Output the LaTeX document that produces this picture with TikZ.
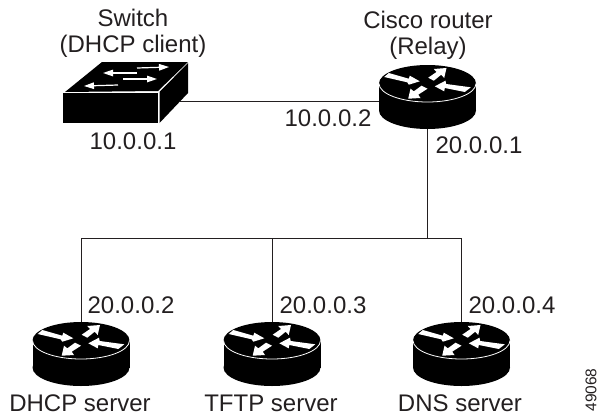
\documentclass[tikz,border=0pt]{standalone}
\usepackage{fontspec}
\setmainfont{Liberation Sans}
\usetikzlibrary{arrows.meta,positioning}

\definecolor{inkgray}{HTML}{231F20}
\tikzset{
  lbl/.style={text=inkgray,font=\fontsize{24}{26}\selectfont,inner sep=0pt,text height=17pt,text depth=0pt},
  caption/.style={text=inkgray,font=\fontsize{24}{26}\selectfont,inner sep=0pt,align=center},
  wire/.style={draw=inkgray,line width=0.9pt},
  routerbox/.style={minimum width=97pt,minimum height=56pt,inner sep=0pt},
  switchbox/.style={minimum width=117pt,minimum height=42pt,inner sep=0pt},
  thinarrow/.style={white,line width=1.2pt,-{Triangle[length=10pt,width=6.5pt]}},
  router/.pic={
    \fill[black] (-48.5,-17.5) rectangle (48.5,9.5);
    \fill[black] (0,9.5) ellipse[x radius=48.5,y radius=18.5];
    \fill[black] (0,-17.5) ellipse[x radius=48.5,y radius=18.5];
    \draw[white,line width=0.8pt] (-48.5,-17.5) arc[start angle=180,end angle=0,x radius=48.5,y radius=18.5];
    % left, up, right, down
    \fill[white] (-38.7,-28) -- (-18.7,-22.3) -- (-17.7,-25.3) -- (-7.7,-19.7) -- (-18.7,-16.3) -- (-20.3,-18.7) -- (-43.3,-24) -- cycle;
    \fill[white] (19,-33) -- (16.7,-23) -- (13.7,-26.3) -- (6.3,-20.3) -- (0.7,-23.3) -- (9,-29) -- (6.3,-32) -- cycle;
    \fill[white] (7.3,-14.7) -- (18,-20.3) -- (18.7,-17) -- (43.3,-13.7) -- (37.3,-9) -- (17.3,-13) -- (16.7,-9.7) -- cycle;
    \fill[white] (-19.3,-2.3) -- (-17,-12.3) -- (-13.7,-9.7) -- (-6,-15.3) -- (0,-12.3) -- (-9.3,-6.3) -- (-7,-3) -- cycle;
  },
  switchicon/.pic={
    \fill[black] (-58.5,-8) rectangle (36.5,22);
    \fill[black] (-56.5,-9) -- (-19.5,-39) -- (66.5,-39) -- (36.5,-10) -- cycle;
    \fill[black] (38,22) -- (66.5,-8) -- (66.5,-38) -- (38,-9) -- cycle;
    \draw[thinarrow] (15.5,-33) -- (47.5,-34);
    \draw[thinarrow] (15.5,-28) -- (-18.5,-28);
    \draw[thinarrow] (1.5,-22) -- (35.5,-22);
    \draw[thinarrow] (-3.5,-16) -- (-37.5,-15);
  }
}

\begin{document}
\begin{tikzpicture}[x=1pt,y=-1pt]
\useasboundingbox (0,0) rectangle (602,413);

% Devices
\node[switchbox] (switch) at (121.5,101) {};
\node[routerbox] (relay) at (427.5,101) {};
\node[routerbox] (dhcp) at (81,358) {};
\node[routerbox] (tftp) at (272,358) {};
\node[routerbox] (dns) at (461.5,358) {};
\coordinate (bus) at (427.5,238);

% Wires
\draw[wire] (switch) -- (relay);
\draw[wire] (relay) -- (bus);
\draw[wire] (dhcp) |- (bus);
\draw[wire] (tftp) -- (tftp |- bus);
\draw[wire] (dns) |- (bus);

% Icons
\pic at (switch) {switchicon};
\pic at (relay) {router};
\pic at (dhcp) {router};
\pic at (tftp) {router};
\pic at (dns) {router};

% Captions
\node[caption] (switchname) at (133,33) {Switch\\(DHCP client)};
\node[caption] (relayname) at (428,35) {Cisco router\\(Relay)};
\node[lbl] (dhcpname) at (80,402.5) {DHCP server};
\node[lbl] (tftpname) at (271,402.5) {TFTP server};
\node[lbl] (dnsname) at (460,402.5) {DNS server};

% Addresses
\node[lbl] (ipa) at (133,141) {10.0.0.1};
\node[lbl] (ipb) at (328,118) {10.0.0.2};
\node[lbl] (ipc) at (479,145) {20.0.0.1};
\node[lbl] (ipd) at (131,305) {20.0.0.2};
\node[lbl] (ipe) at (323,305) {20.0.0.3};
\node[lbl] (ipf) at (512,305) {20.0.0.4};

\node[text=inkgray,font=\fontsize{15.5}{16}\selectfont,inner sep=0pt,rotate=90] (figid) at (591,390) {49068};
\end{tikzpicture}
\end{document}
